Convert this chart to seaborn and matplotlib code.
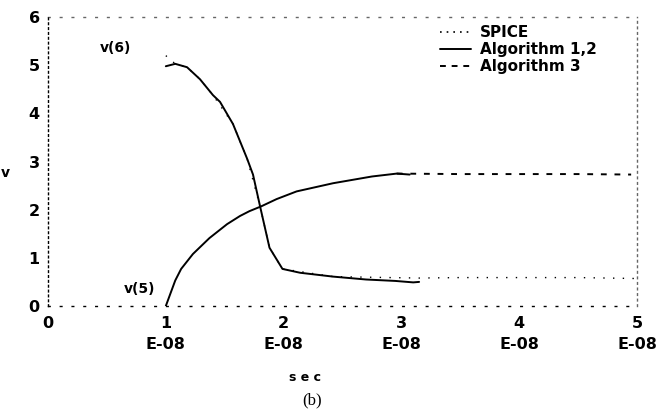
import numpy as np
import pandas as pd
import seaborn as sns
import matplotlib
matplotlib.use("Agg")
import matplotlib.pyplot as plt
from matplotlib.lines import Line2D

sns.set_theme(style="white")
plt.rcParams['font.family'] = ['DejaVu Sans']
plt.rcParams.update({"text.color": "black", "axes.labelcolor": "black",
                     "xtick.color": "black", "ytick.color": "black"})

# time axis in units of 1E-08 s, voltage in V
# Algorithm 1,2 (solid)
t_v6_alg12 = [1.00, 1.08, 1.18, 1.29, 1.40, 1.46, 1.57, 1.69, 1.74, 1.80, 1.88, 1.99, 2.14, 2.42, 2.70, 2.95, 3.10, 3.15]
v6_alg12 = [4.98, 5.03, 4.96, 4.71, 4.38, 4.24, 3.78, 3.06, 2.73, 2.07, 1.21, 0.77, 0.69, 0.61, 0.55, 0.52, 0.49, 0.50]
t_v5_alg12 = [1.00, 1.08, 1.13, 1.23, 1.37, 1.52, 1.63, 1.71, 1.81, 1.94, 2.11, 2.42, 2.75, 2.96, 3.07]
v5_alg12 = [0.00, 0.53, 0.77, 1.08, 1.41, 1.70, 1.87, 1.97, 2.07, 2.22, 2.38, 2.55, 2.69, 2.75, 2.73]

# Algorithm 3 (dashed) continuation of v(5)
t_v5_alg3 = [2.96, 3.50, 4.00, 4.50, 4.95]
v5_alg3 = [2.75, 2.74, 2.74, 2.74, 2.73]

# SPICE (dotted)
t_v6_spice = [1.00, 1.08, 1.18, 1.29, 1.40, 1.57, 1.69, 1.80, 1.88, 1.99, 2.42, 3.15, 3.50, 4.00, 4.50, 5.00]
v6_spice = [5.20, 5.03, 4.96, 4.71, 4.38, 3.78, 3.06, 2.07, 1.21, 0.77, 0.61, 0.58, 0.59, 0.59, 0.59, 0.57]

x_ticks = [0, 1, 2, 3, 4, 5]
x_labels = ["0", "1\nE-08", "2\nE-08", "3\nE-08", "4\nE-08", "5\nE-08"]
y_ticks = [0, 1, 2, 3, 4, 5, 6]
y_labels = ["0", "1", "2", "3", "4", "5", "6"]

fig = plt.figure(figsize=(6.57, 4.15), dpi=100)
ax = fig.add_axes([0.0731, 0.2627, 0.8965, 0.696])

sns.lineplot(x=t_v6_spice, y=v6_spice, ax=ax, color="black", lw=1.0,
             linestyle=(0, (1, 6)), sort=False)
sns.lineplot(x=t_v6_alg12, y=v6_alg12, ax=ax, color="black", lw=1.4, sort=False)
sns.lineplot(x=t_v5_alg12, y=v5_alg12, ax=ax, color="black", lw=1.4, sort=False)
sns.lineplot(x=t_v5_alg3, y=v5_alg3, ax=ax, color="black", lw=1.4,
             linestyle=(0, (3, 4)), sort=False)

ax.set_xlim(0, 5)
ax.set_ylim(0, 6)
ax.set_xticks(x_ticks)
ax.set_xticklabels(x_labels, fontsize=11.5, fontweight="bold", linespacing=1.45)
ax.set_yticks(y_ticks)
ax.set_yticklabels(y_labels, fontsize=11.5, fontweight="bold")
ax.tick_params(axis="x", direction="inout", length=5, width=1, pad=5, color="black")
ax.tick_params(axis="y", direction="inout", length=4, width=1, pad=4, color="black")

# dotted plotter-style frame
for side, ls in [("bottom", (0, (1.2, 7.3))), ("top", (0, (1.2, 7.3))),
                 ("left", (0, (1.2, 2.3))), ("right", (0, (1.2, 2.8)))]:
    ax.spines[side].set_linestyle(ls)
    ax.spines[side].set_linewidth(1.0)
    ax.spines[side].set_color("black")
ax.spines["top"].set_alpha(0.6)
ax.spines["right"].set_alpha(0.6)

ax.set_ylabel("v", rotation=0, fontsize=10, fontweight="bold")
ax.yaxis.set_label_coords(-0.073, 0.436)
ax.set_xlabel("s e c", fontsize=9, fontweight="bold")
ax.xaxis.set_label_coords(0.436, -0.225)

ax.text(0.57, 5.36, "v(6)", fontsize=10, fontweight="bold", ha="center", va="center")
ax.text(0.78, 0.36, "v(5)", fontsize=10, fontweight="bold", ha="center", va="center")

handles = [Line2D([], [], color="black", lw=1.2, linestyle=(0, (1, 3))),
           Line2D([], [], color="black", lw=1.4),
           Line2D([], [], color="black", lw=1.4, linestyle=(0, (3, 3)))]
leg = ax.legend(handles, ["SPICE", "Algorithm 1,2", "Algorithm 3"],
                loc="upper left", bbox_to_anchor=(0.666, 0.972), frameon=False,
                handlelength=2.0, handletextpad=0.6, borderpad=0, borderaxespad=0,
                labelspacing=0.12, prop={"size": 11, "weight": "bold"})
for txt in leg.get_texts():
    txt.set_color("black")

fig.text(0.475, 0.036, "(b)", fontsize=12, family="Liberation Serif",
         ha="center", va="center")

fig.savefig("out.png", dpi=100)
